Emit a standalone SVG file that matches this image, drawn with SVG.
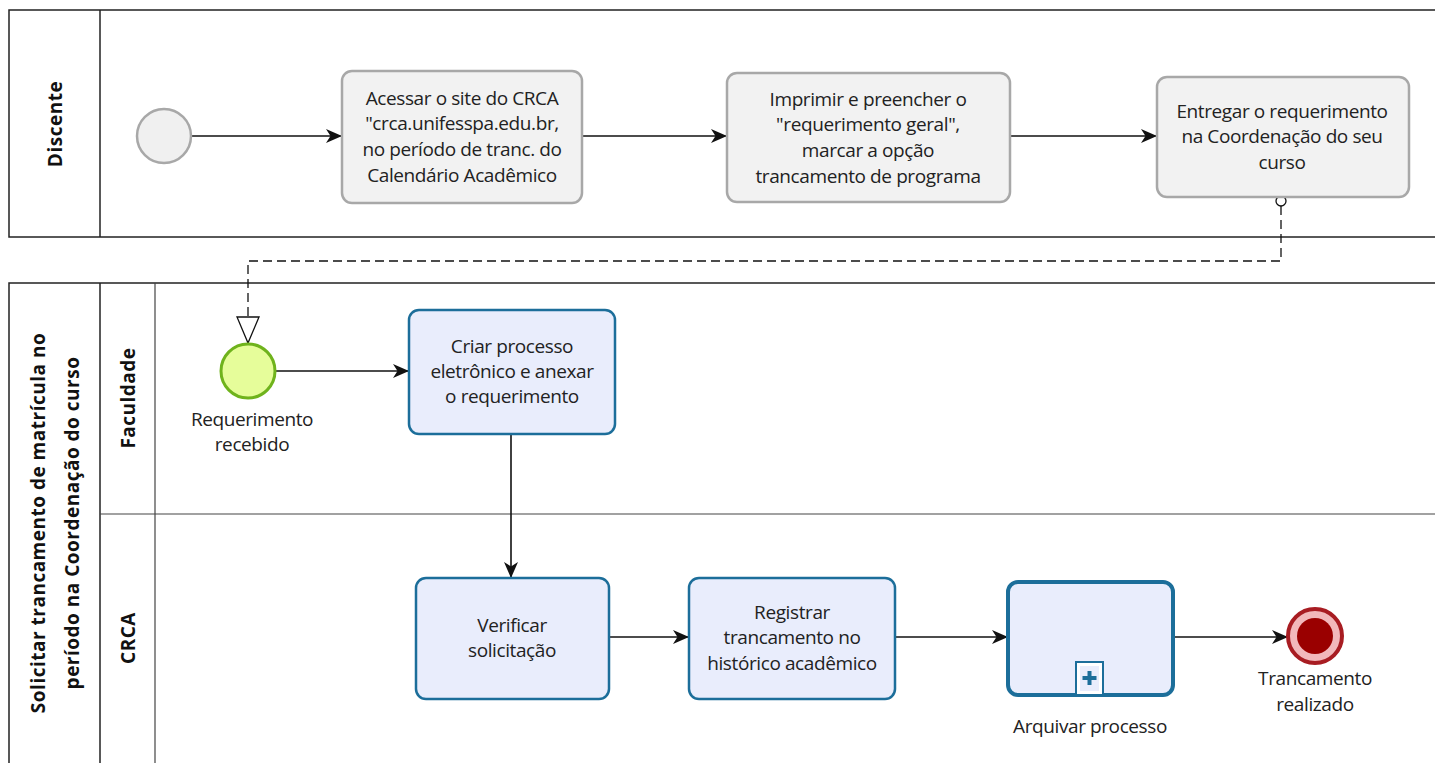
<svg xmlns="http://www.w3.org/2000/svg" width="1435" height="763" viewBox="0 0 1435 763">
<style>
.pool{fill:#fff;stroke:#222;stroke-width:1.5}
.ln{stroke:#444;stroke-width:1.2;fill:none}
.t{font-family:"Open Sans","DejaVu Sans",sans-serif;font-size:19px;fill:#222;text-anchor:middle;letter-spacing:-0.4px}
.h{font-family:"Open Sans","DejaVu Sans",sans-serif;font-size:19px;font-weight:bold;fill:#111;text-anchor:middle;letter-spacing:0.5px}
.gtask{fill:#f2f2f2;stroke:#a8a8a8;stroke-width:2.5}
.btask{fill:#e9edfc;stroke:#1c6e9a;stroke-width:2.5}
.flow{stroke:#111;stroke-width:1.6;fill:none;marker-end:url(#arr)}
</style>
<defs>
<marker id="arr" viewBox="0 0 16 14" refX="15" refY="7" markerWidth="16" markerHeight="14" markerUnits="userSpaceOnUse" orient="auto">
<path d="M0,0 L16,7 L0,14 L4.5,7 z" fill="#111"/>
</marker>
<marker id="tri" viewBox="0 0 28 24" refX="27" refY="12" markerWidth="28" markerHeight="24" markerUnits="userSpaceOnUse" orient="auto">
<path d="M1,1 L27,12 L1,23 z" fill="#fff" stroke="#111" stroke-width="1.3"/>
</marker>
</defs>

<g id="pool-discente">
<rect class="pool" x="9" y="10" width="1440" height="227"/>
<line class="pool" x1="100" y1="10" x2="100" y2="237"/>
<text class="h" transform="translate(62,124) rotate(-90)">Discente</text>
</g>

<g id="pool-main">
<rect class="pool" x="9" y="283" width="1440" height="500"/>
<line class="pool" x1="100" y1="283" x2="100" y2="763"/>
<line class="ln" x1="155" y1="283" x2="155" y2="763"/>
<line class="ln" x1="100" y1="514" x2="1435" y2="514"/>
<text class="h" transform="translate(45,523) rotate(-90)">Solicitar trancamento de matrícula no</text>
<text class="h" transform="translate(79,523) rotate(-90)">período na Coordenação do curso</text>
<text class="h" transform="translate(135,398) rotate(-90)">Faculdade</text>
<text class="h" transform="translate(135,638) rotate(-90)">CRCA</text>
</g>

<g id="connectors">
<line class="flow" x1="191" y1="136" x2="341" y2="136"/>
<line class="flow" x1="582" y1="136" x2="726" y2="136"/>
<line class="flow" x1="1010" y1="136" x2="1156" y2="136"/>
<path d="M1281,206 L1281,261 L248,261 L248,343" fill="none" stroke="#111" stroke-width="1.3" stroke-dasharray="9,5" marker-end="url(#tri)"/>
<circle cx="1281" cy="201" r="5" fill="#fff" stroke="#111" stroke-width="1.3"/>
<line class="flow" x1="276" y1="371" x2="408" y2="371"/>
<line class="flow" x1="511" y1="434" x2="511" y2="577"/>
<line class="flow" x1="609" y1="637" x2="688" y2="637"/>
<line class="flow" x1="895" y1="637" x2="1007" y2="637"/>
<line class="flow" x1="1173" y1="637" x2="1287" y2="637"/>
</g>

<g id="start1">
<circle cx="164" cy="136" r="27" fill="#f0f0f0" stroke="#a8a8a8" stroke-width="2.5"/>
</g>

<g id="task-acessar">
<rect class="gtask" x="342" y="71" width="240" height="132" rx="10"/>
<text class="t" x="462" y="105">Acessar o site do CRCA</text>
<text class="t" x="462" y="130">"crca.unifesspa.edu.br,</text>
<text class="t" x="462" y="156">no período de tranc. do</text>
<text class="t" x="462" y="182">Calendário Acadêmico</text>
</g>

<g id="task-imprimir">
<rect class="gtask" x="727" y="73" width="283" height="129" rx="10"/>
<text class="t" x="868" y="106">Imprimir e preencher o</text>
<text class="t" x="868" y="131">"requerimento geral",</text>
<text class="t" x="868" y="157">marcar a opção</text>
<text class="t" x="868" y="183">trancamento de programa</text>
</g>

<g id="task-entregar">
<rect class="gtask" x="1157" y="77" width="252" height="120" rx="10"/>
<text class="t" x="1282" y="118">Entregar o requerimento</text>
<text class="t" x="1282" y="143">na Coordenação do seu</text>
<text class="t" x="1282" y="169">curso</text>
</g>

<g id="start-recebido">
<circle cx="248" cy="371" r="27" fill="#e6fd9a" stroke="#6fb31c" stroke-width="3"/>
<text class="t" x="252" y="426">Requerimento</text>
<text class="t" x="252" y="451">recebido</text>
</g>

<g id="task-criar">
<rect class="btask" x="409" y="310" width="206" height="124" rx="10"/>
<text class="t" x="512" y="353">Criar processo</text>
<text class="t" x="512" y="378">eletrônico e anexar</text>
<text class="t" x="512" y="403">o requerimento</text>
</g>

<g id="task-verificar">
<rect class="btask" x="416" y="578" width="193" height="121" rx="10"/>
<text class="t" x="512" y="632">Verificar</text>
<text class="t" x="512" y="657">solicitação</text>
</g>

<g id="task-registrar">
<rect class="btask" x="689" y="578" width="206" height="121" rx="10"/>
<text class="t" x="792" y="619">Registrar</text>
<text class="t" x="792" y="644">trancamento no</text>
<text class="t" x="792" y="670">histórico acadêmico</text>
</g>

<g id="subprocess-arquivar">
<rect x="1008" y="582" width="165" height="113" rx="10" fill="#e9edfc" stroke="#1c6e9a" stroke-width="4"/>
<rect x="1076" y="662" width="27" height="33" fill="#fff" stroke="#1c6e9a" stroke-width="2"/>
<rect x="1080" y="666" width="19" height="25" fill="#e9edfc" stroke="none"/>
<path d="M1089.5,671 v14 M1082.5,678 h14" stroke="#1c6e9a" stroke-width="4"/>
<text class="t" x="1090" y="733">Arquivar processo</text>
</g>

<g id="end-realizado">
<circle cx="1315" cy="636" r="27" fill="#f2b8bb" stroke="#a81c22" stroke-width="4"/>
<circle cx="1315" cy="636" r="18" fill="#9a0000"/>
<text class="t" x="1315" y="685">Trancamento</text>
<text class="t" x="1315" y="711">realizado</text>
</g>
</svg>
